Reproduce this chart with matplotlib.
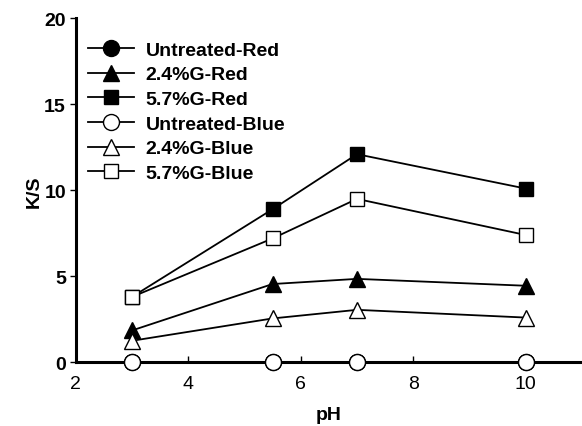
import matplotlib
matplotlib.use("Agg")
import matplotlib.pyplot as plt

plt.rcParams['font.family'] = ['Liberation Sans', 'DejaVu Sans']

ph = [3, 5.5, 7, 10]

untreated_red = [0, 0, 0, 0]
g24_red = [1.85, 4.55, 4.85, 4.45]
g57_red = [3.8, 8.9, 12.1, 10.1]
untreated_blue = [0, 0, 0, 0]
g24_blue = [1.25, 2.55, 3.05, 2.6]
g57_blue = [3.8, 7.2, 9.5, 7.4]

series = [
    ("Untreated-Red", untreated_red, 'o', 'black', 11.5),
    ("2.4%G-Red", g24_red, '^', 'black', 11),
    ("5.7%G-Red", g57_red, 's', 'black', 10.5),
    ("Untreated-Blue", untreated_blue, 'o', 'white', 11.5),
    ("2.4%G-Blue", g24_blue, '^', 'white', 11),
    ("5.7%G-Blue", g57_blue, 's', 'white', 10.5),
]

fs = 14

fig = plt.figure(figsize=(5.82, 4.27), dpi=100)
ax = fig.add_axes([0.130, 0.1492, 0.870, 0.8056])

for label, vals, mk, fc, ms in series:
    ax.plot(ph, vals, color='black', lw=1.3, marker=mk, markersize=ms,
            markerfacecolor=fc, markeredgecolor='black', markeredgewidth=1.0,
            label=label, clip_on=False, zorder=3)

ax.set_xlim(2, 11)
ax.set_ylim(0, 20)
ax.set_xticks([2, 4, 6, 8, 10])
ax.set_yticks([0, 5, 10, 15, 20])

for s in ['top', 'right']:
    ax.spines[s].set_visible(False)
for s in ['left', 'bottom']:
    ax.spines[s].set_linewidth(2.2)

ax.tick_params(axis='x', direction='in', length=4, width=1, labelsize=fs, pad=9)
ax.tick_params(axis='y', direction='out', length=4, width=1, labelsize=fs, pad=3)
for t in ax.get_yticklabels():
    t.set_fontweight('bold')

ax.set_xlabel('pH', fontsize=fs, fontweight='bold', labelpad=10)
ax.set_ylabel('K/S', fontsize=fs, fontweight='bold', labelpad=1)

ax.legend(loc='upper left', bbox_to_anchor=(0.0, 0.97), frameon=False,
          prop={'weight': 'bold', 'size': fs}, handlelength=2.37,
          handletextpad=0.57, labelspacing=0.36, borderaxespad=0.25)

fig.savefig('out.png', dpi=100)
